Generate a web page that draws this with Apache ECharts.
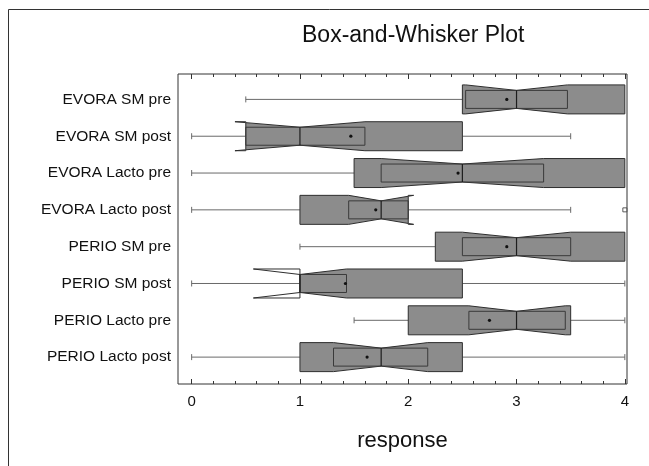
<!DOCTYPE html>
<html>
<head>
<meta charset="utf-8">
<title>Box-and-Whisker Plot</title>
<script src="https://cdn.jsdelivr.net/npm/echarts@6/dist/echarts.min.js"></script>
<style>
  html, body { margin: 0; padding: 0; background: #fff; }
  #boxChart { width: 649px; height: 466px; }
</style>
</head>
<body>
<div id="boxChart"></div>
<script>
// groups, top to bottom
var categories = ['EVORA SM pre', 'EVORA SM post', 'EVORA Lacto pre', 'EVORA Lacto post',
  'PERIO SM pre', 'PERIO SM post', 'PERIO Lacto pre', 'PERIO Lacto post'];

var whiskerLow  = [0.5, 0,   0,    0,    1.0,  0,    1.5,  0];
var q1          = [2.5, 0.5, 1.5,  1.0,  2.25, 1.0,  2.0,  1.0];
var medians     = [3.0, 1.0, 2.5,  1.75, 3.0,  1.0,  3.0,  1.75];
var q3          = [4.0, 2.5, 4.0,  2.0,  4.0,  2.5,  3.5,  2.5];
var whiskerHigh = [4.0, 3.5, 4.0,  3.5,  4.0,  4.0,  4.0,  4.0];
var notchLow    = [2.53, 0.4, 1.75, 1.45, 2.5, 0.57, 2.56, 1.31];
var notchHigh   = [3.47, 1.6, 3.25, 2.05, 3.5, 1.43, 3.45, 2.18];
var means       = [2.91, 1.47, 2.46, 1.70, 2.91, 1.42, 2.75, 1.62];

var outlierRows = ['EVORA Lacto post'];
var outlierValues = [4.0];

var xMajorTicks = [0, 1, 2, 3, 4];
var xMinorTicks = [0.2, 0.4, 0.6, 0.8, 1.2, 1.4, 1.6, 1.8, 2.2, 2.4, 2.6, 2.8,
  3.2, 3.4, 3.6, 3.8];
var rowTicks = [1, 2, 3, 4, 5, 6, 7, 8];

var FONT = 'Liberation Sans';
var X_MIN = -0.126, X_MAX = 4.02;

var boxData = categories.map(function (name, i) {
  return [i + 1, whiskerLow[i], q1[i], medians[i], q3[i], whiskerHigh[i],
    notchLow[i], notchHigh[i], means[i]];
});
var outlierData = outlierRows.map(function (r, i) {
  return [outlierValues[i], categories.indexOf(r) + 1];
});

function renderBox(params, api) {
  var row = api.value(0);
  var lo = api.value(1), a = api.value(2), m = api.value(3), b = api.value(4);
  var hi = api.value(5), nl = api.value(6), nh = api.value(7), mu = api.value(8);
  var X = function (v) { return api.coord([v, row])[0]; };
  var cy = api.coord([0, row])[1];
  var FULL = 14.5, WAIST = 9, CAP = 3;
  var dark = '#2e2e2e', whisk = '#6a6a6a';

  function half(v) {
    if (v <= nl || v >= nh) return FULL;
    var t = v <= m ? (v - nl) / (m - nl) : (nh - v) / (nh - m);
    return FULL - (FULL - WAIST) * t;
  }

  var xs = [a, nl, m, nh, b].filter(function (v) { return v >= a && v <= b; })
    .sort(function (p, q) { return p - q; })
    .filter(function (v, k, arr) { return k === 0 || v !== arr[k - 1]; });
  var pts = xs.map(function (v) { return [X(v), cy - half(v)]; });
  xs.slice().reverse().forEach(function (v) { pts.push([X(v), cy + half(v)]); });

  var children = [];
  var lineStyle = { stroke: whisk, lineWidth: 1 };
  if (lo < a) {
    children.push({ type: 'line', shape: { x1: X(lo), y1: cy, x2: X(a), y2: cy }, style: lineStyle });
    children.push({ type: 'line', shape: { x1: X(lo), y1: cy - CAP, x2: X(lo), y2: cy + CAP }, style: lineStyle });
  }
  if (hi > b) {
    children.push({ type: 'line', shape: { x1: X(b), y1: cy, x2: X(hi), y2: cy }, style: lineStyle });
    children.push({ type: 'line', shape: { x1: X(hi), y1: cy - CAP, x2: X(hi), y2: cy + CAP }, style: lineStyle });
  }

  // notch pieces that stick out of the box
  var flareStyle = { fill: '#fff', stroke: dark, lineWidth: 1 };
  [[nl, a, nl < a], [nh, b, nh > b]].forEach(function (f) {
    if (!f[2]) return;
    var hb = half(f[1]);
    children.push({ type: 'polygon', shape: { points: [[X(f[0]), cy - FULL], [X(f[1]), cy - FULL], [X(f[1]), cy - hb]] }, style: flareStyle });
    children.push({ type: 'polygon', shape: { points: [[X(f[0]), cy + FULL], [X(f[1]), cy + FULL], [X(f[1]), cy + hb]] }, style: flareStyle });
  });

  children.push({ type: 'polygon', shape: { points: pts }, style: { fill: '#8c8c8c', stroke: dark, lineWidth: 1 } });

  var il = Math.max(nl, a), ir = Math.min(nh, b);
  children.push({ type: 'rect', shape: { x: X(il), y: cy - WAIST, width: X(ir) - X(il), height: 2 * WAIST },
    style: { fill: null, stroke: '#3a3a3a', lineWidth: 1 } });
  children.push({ type: 'line', shape: { x1: X(m), y1: cy - WAIST, x2: X(m), y2: cy + WAIST },
    style: { stroke: '#1e1e1e', lineWidth: 1.2 } });
  children.push({ type: 'circle', shape: { cx: X(mu), cy: cy, r: 1.6 }, style: { fill: '#111' } });

  return { type: 'group', children: children };
}

function tickAxis(position, values, len, withLabels) {
  var ax = {
    type: 'value', position: position, min: X_MIN, max: X_MAX,
    axisLine: { show: false },
    splitLine: { show: false },
    axisTick: { show: true, inside: true, length: len, customValues: values,
      lineStyle: { color: '#333', width: 1 } },
    axisLabel: { show: false }
  };
  if (withLabels) {
    ax.axisLabel = { show: true, customValues: values, margin: 10,
      fontFamily: FONT, fontSize: 15, color: '#111' };
    ax.name = 'response';
    ax.nameLocation = 'middle';
    ax.nameGap = 46;
    ax.nameTextStyle = { fontFamily: FONT, fontSize: 22, color: '#111' };
  }
  return ax;
}

var chart = echarts.init(document.getElementById('boxChart'));

var option = {
  animation: false,
  backgroundColor: '#fff',
  title: {
    text: 'Box-and-Whisker Plot',
    left: 297, top: 19,
    textStyle: { fontFamily: FONT, fontSize: 23, fontWeight: 'normal', color: '#111' }
  },
  graphic: [{
    type: 'rect', left: 6, top: 7, silent: true,
    shape: { width: 700, height: 520 },
    style: { fill: null, stroke: '#333', lineWidth: 1 }
  }],
  grid: { left: 178, right: 22, top: 74, bottom: 82, show: true,
    borderColor: '#333', borderWidth: 1, backgroundColor: 'transparent' },
  xAxis: [
    tickAxis('bottom', xMajorTicks, 5, true),
    tickAxis('bottom', xMinorTicks, 3, false),
    tickAxis('top', xMajorTicks, 5, false),
    tickAxis('top', xMinorTicks, 3, false)
  ],
  yAxis: {
    type: 'value', inverse: true, min: 0.31, max: 8.73,
    axisLine: { show: false },
    axisTick: { show: false },
    splitLine: { show: false },
    axisLabel: {
      customValues: rowTicks, margin: 7,
      fontFamily: FONT, fontSize: 15.5, color: '#111',
      formatter: function (v) { return categories[Math.round(v) - 1] || ''; }
    }
  },
  series: [
    {
      type: 'custom',
      xAxisIndex: 0, yAxisIndex: 0,
      renderItem: renderBox,
      encode: { y: 0, x: [1, 2, 3, 4, 5, 6, 7, 8] },
      data: boxData
    },
    {
      type: 'scatter',
      xAxisIndex: 0, yAxisIndex: 0,
      symbol: 'rect', symbolSize: 4,
      itemStyle: { color: '#fff', borderColor: '#333', borderWidth: 1 },
      data: outlierData
    }
  ]
};

chart.setOption(option);

window.addEventListener('resize', function () {
  chart.resize();
});
</script>
</body>
</html>
